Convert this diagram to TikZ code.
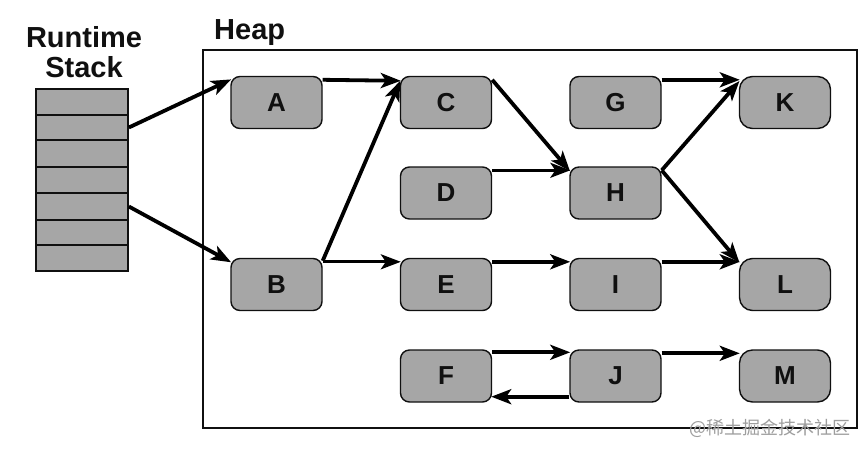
\documentclass[tikz,border=0pt]{standalone}
\usepackage{fontspec}
\setmainfont{Liberation Sans}
\newfontfamily\cjkwm{Noto Sans CJK SC}
\usetikzlibrary{arrows.meta}
\definecolor{boxgray}{HTML}{A6A6A6}
\definecolor{inkc}{HTML}{101010}
\tikzset{
  obj/.style={draw=inkc,line width=1.4pt,fill=boxgray,rounded corners=9pt,minimum width=91pt,minimum height=52pt,inner sep=0pt,font=\fontsize{26}{26}\selectfont\bfseries,text=inkc},
  objb/.style={obj,rounded corners=13pt},
  cell/.style={draw=inkc,line width=1.7pt,fill=boxgray,minimum width=92pt,inner sep=0pt},
  title/.style={font=\fontsize{29}{31}\selectfont\bfseries,text=inkc,align=center,inner sep=0pt},
  link/.style={draw=black,line width=3.8pt,-{Stealth[length=20pt,width=15pt,inset=5pt]},shorten >=-1pt},
  linkthin/.style={link,line width=2.8pt}
}
\begin{document}
\begin{tikzpicture}[x=1pt,y=-1pt]
\useasboundingbox (0,0) rectangle (866,453);
\fill[white] (0,0) rectangle (866,453);
% heap frame
\node[draw=inkc,line width=2.2pt,minimum width=654pt,minimum height=378pt,inner sep=0pt] (heap) at (530,239) {};
\node[title,anchor=base west] (heaplabel) at (214,39) {Heap};
\node[title] (stacklabel) at (84,52) {Runtime\\[-1pt]Stack};
% stack
\node[cell,minimum height=26pt] (s1) at (82,102) {};
\node[cell,minimum height=25pt] (s2) at (82,127.5) {};
\node[cell,minimum height=27pt] (s3) at (82,153.5) {};
\node[cell,minimum height=26pt] (s4) at (82,180) {};
\node[cell,minimum height=27pt] (s5) at (82,206.5) {};
\node[cell,minimum height=25pt] (s6) at (82,232.5) {};
\node[cell,minimum height=26pt] (s7) at (82,258) {};
% objects
\node[obj] (A) at (276.5,102.5) {A};
\node[obj] (B) at (276.5,284.5) {B};
\node[obj] (C) at (446,102.5) {C};
\node[obj] (D) at (446,193) {D};
\node[obj] (E) at (446,284.5) {E};
\node[obj] (F) at (446,376) {F};
\node[obj] (G) at (615.5,102.5) {G};
\node[obj] (H) at (615.5,193) {H};
\node[obj] (I) at (615.5,284.5) {I};
\node[obj] (J) at (615.5,376) {J};
\node[objb] (K) at (785,102.5) {K};
\node[objb] (L) at (785,284.5) {L};
\node[objb] (M) at (785,376) {M};
% connectors
\draw[link] (s2.east) -- ([yshift=-4pt]A.north west);
\draw[link] (s5.east) -- ([yshift=-4pt]B.north west);
\draw[link] ([yshift=-4pt]A.north east) -- ([yshift=-5pt]C.north west);
\draw[link] ([yshift=-3pt]B.north east) -- ([yshift=-6pt]C.north west);
\draw[linkthin] ([yshift=-4pt]B.north east) -- ([yshift=-4pt]E.north west);
\draw[link] ([yshift=-4pt]C.north east) -- ([yshift=-4pt]H.north west);
\draw[linkthin] ([yshift=-4pt]D.north east) -- ([yshift=-4pt]H.north west);
\draw[link] ([yshift=-4pt]E.north east) -- ([yshift=-4pt]I.north west);
\draw[link] ([yshift=-4pt]G.north east) -- ([yshift=-4pt]K.north west);
\draw[link] ([yshift=-4pt]H.north east) -- ([yshift=-6pt]K.north west);
\draw[link] ([yshift=-4pt]H.north east) -- ([yshift=-4pt]L.north west);
\draw[link] ([yshift=-4pt]I.north east) -- ([yshift=-4pt]L.north west);
\draw[link] ([yshift=-3pt]F.north east) -- ([yshift=-3pt]J.north west);
\draw[link] ([yshift=-4pt]J.north east) -- ([yshift=-4pt]M.north west);
\draw[link] ([yshift=6pt]J.south west) -- ([yshift=6pt]F.south east);
% watermark
\node[anchor=east,text=black!38,font=\fontsize{18}{18}\cjkwm,inner sep=0pt] (wm) at (851,428) {@稀土掘金技术社区};
\end{tikzpicture}
\end{document}
